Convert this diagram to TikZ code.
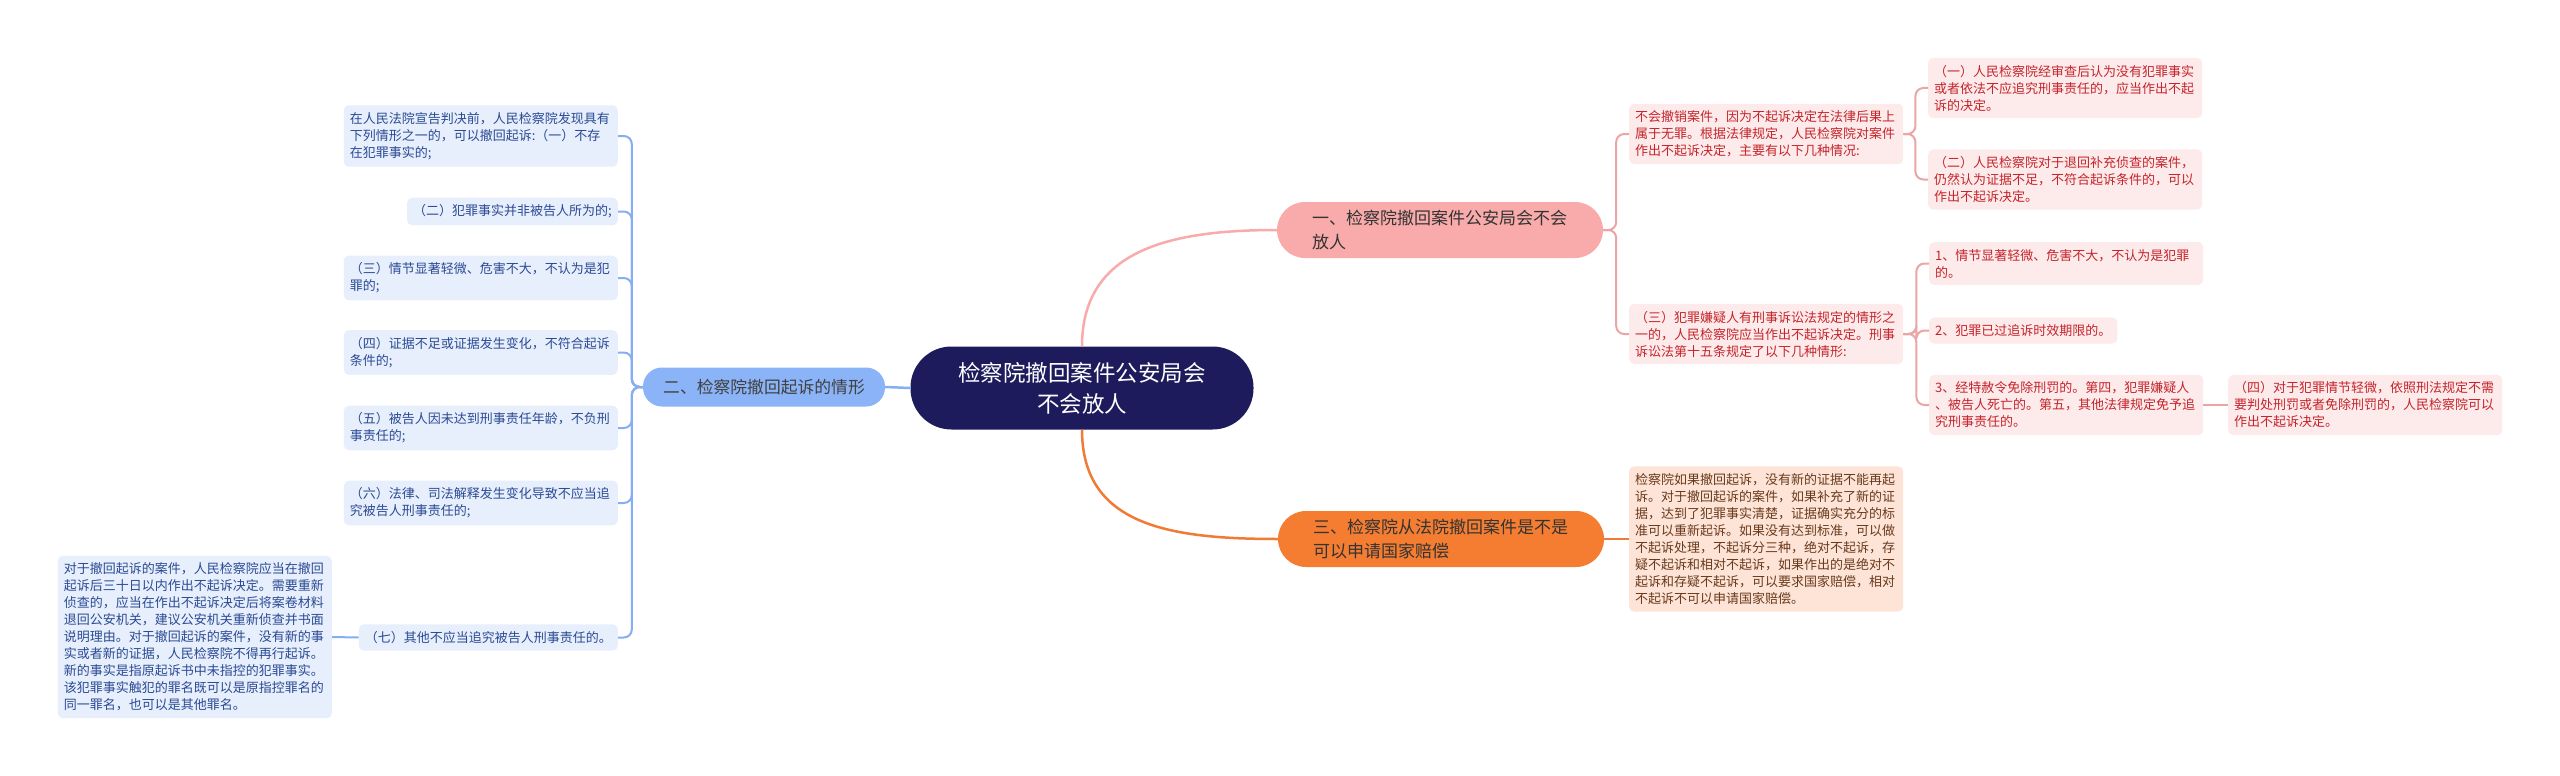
\documentclass[tikz,border=0pt]{standalone}
\usepackage{fontspec}
\newfontfamily\cjk{Noto Sans CJK SC}
\usepackage{tikz}
\definecolor{rootnavy}{HTML}{1D1B5C}
\definecolor{pinkmain}{HTML}{F8ABAA}
\definecolor{orangemain}{HTML}{F47D31}
\definecolor{bluemain}{HTML}{8BB3F7}
\definecolor{blueleaf}{HTML}{E7EFFD}
\definecolor{bluetext}{HTML}{2B4A93}
\definecolor{pinkleaf}{HTML}{FDEBEB}
\definecolor{pinktext}{HTML}{C4242B}
\definecolor{orangeleaf}{HTML}{FDE4D7}
\definecolor{orangetext}{HTML}{6A3A1C}
\definecolor{pinkline}{HTML}{EBA5A4}
\definecolor{orangeline}{HTML}{EF7B34}
\definecolor{blueline}{HTML}{86AEF3}

\begin{document}
\begin{tikzpicture}[x=1pt,y=-1pt,
  rootbox/.style={fill=rootnavy,text=white,rounded corners=41pt,minimum width=343pt,minimum height=83pt,align=center,font=\cjk\fontsize{22.5}{31}\selectfont},
  mainbox/.style={rounded corners=28pt,minimum width=326pt,minimum height=56pt,text width=256pt,align=left,font=\cjk\fontsize{17}{23.5}\selectfont},
  blueleafbox/.style={fill=blueleaf,text=bluetext,rounded corners=5pt,inner xsep=6pt,inner ysep=7pt,align=left,font=\cjk\fontsize{13}{17}\selectfont},
  pinkleafbox/.style={blueleafbox,fill=pinkleaf,text=pinktext},
  orangeleafbox/.style={blueleafbox,fill=orangeleaf,text=orangetext},
  bluelink/.style={draw=blueline,line width=2pt,rounded corners=8pt},
  pinklink/.style={draw=pinkline,line width=2pt,rounded corners=8pt},
  orangelink/.style={draw=orangeline,line width=2pt}]
\useasboundingbox[fill=white] (0,0) rectangle (2560,776);

\node[rootbox] (root) at (1082,388) {检察院撤回案件公安局会\\不会放人};

\node[mainbox,fill=pinkmain,text=black!80] (one) at (1440,230) {一、检察院撤回案件公安局会不会\\放人};
\node[mainbox,fill=orangemain,text=black!80] (three) at (1441,539) {三、检察院从法院撤回案件是不是\\可以申请国家赔偿};
\node[fill=bluemain,text=black!75,rounded corners=19pt,minimum width=242pt,minimum height=39pt,font=\cjk\fontsize{16.8}{22}\selectfont] (two) at (764,387) {二、检察院撤回起诉的情形};

\draw[draw=pinkmain,line width=2.5pt] (root.north) .. controls +(0,-95) and +(-110,0) .. (one.west);
\draw[draw=orangeline,line width=2.5pt] (root.south) .. controls +(0,95) and +(-110,0) .. (three.west);
\draw[draw=blueline,line width=2.5pt] (root.west) -- (two.east);

\node[blueleafbox,text width=262pt,anchor=east] (l1) at (618,136) {在人民法院宣告判决前，人民检察院发现具有\\下列情形之一的，可以撤回起诉:（一）不存\\在犯罪事实的;};
\node[blueleafbox,anchor=east] (l2) at (618,211.5) {（二）犯罪事实并非被告人所为的;};
\node[blueleafbox,text width=262pt,anchor=east] (l3) at (618,278) {（三）情节显著轻微、危害不大，不认为是犯\\罪的;};
\node[blueleafbox,text width=262pt,anchor=east] (l4) at (618,352.5) {（四）证据不足或证据发生变化，不符合起诉\\条件的;};
\node[blueleafbox,text width=262pt,anchor=east] (l5) at (618,428) {（五）被告人因未达到刑事责任年龄，不负刑\\事责任的;};
\node[blueleafbox,text width=262pt,anchor=east] (l6) at (618,503) {（六）法律、司法解释发生变化导致不应当追\\究被告人刑事责任的;};
\node[blueleafbox,anchor=east] (l7) at (618,637.5) {（七）其他不应当追究被告人刑事责任的。};
\node[blueleafbox,text width=262pt,anchor=east] (l8) at (332,637) {对于撤回起诉的案件，人民检察院应当在撤回\\起诉后三十日以内作出不起诉决定。需要重新\\侦查的，应当在作出不起诉决定后将案卷材料\\退回公安机关，建议公安机关重新侦查并书面\\说明理由。对于撤回起诉的案件，没有新的事\\实或者新的证据，人民检察院不得再行起诉。\\新的事实是指原起诉书中未指控的犯罪事实。\\该犯罪事实触犯的罪名既可以是原指控罪名的\\同一罪名，也可以是其他罪名。};

\foreach \leaf in {l1,l2,l3,l4,l5,l6,l7}
  \draw[bluelink] (two.west) -- ++(-11,0) |- (\leaf.east);
\draw[bluelink] (l7.west) -- (l8.east);

\node[pinkleafbox,text width=262pt,anchor=west] (pa) at (1629,134) {不会撤销案件，因为不起诉决定在法律后果上\\属于无罪。根据法律规定，人民检察院对案件\\作出不起诉决定，主要有以下几种情况:};
\node[pinkleafbox,text width=262pt,anchor=west] (pb) at (1629,334) {（三）犯罪嫌疑人有刑事诉讼法规定的情形之\\一的，人民检察院应当作出不起诉决定。刑事\\诉讼法第十五条规定了以下几种情形:};
\node[pinkleafbox,text width=262pt,anchor=west] (pa1) at (1928,88) {（一）人民检察院经审查后认为没有犯罪事实\\或者依法不应追究刑事责任的，应当作出不起\\诉的决定。};
\node[pinkleafbox,text width=262pt,anchor=west] (pa2) at (1928,179.5) {（二）人民检察院对于退回补充侦查的案件，\\仍然认为证据不足，不符合起诉条件的，可以\\作出不起诉决定。};
\node[pinkleafbox,text width=262pt,anchor=west] (pb1) at (1929,263.5) {1、情节显著轻微、危害不大，不认为是犯罪\\的。};
\node[pinkleafbox,anchor=west] (pb2) at (1929,330.5) {2、犯罪已过追诉时效期限的。};
\node[pinkleafbox,text width=262pt,anchor=west] (pb3) at (1929,405) {3、经特赦令免除刑罚的。第四，犯罪嫌疑人\\、被告人死亡的。第五，其他法律规定免予追\\究刑事责任的。};
\node[pinkleafbox,text width=262pt,anchor=west] (pb4) at (2228,405) {（四）对于犯罪情节轻微，依照刑法规定不需\\要判处刑罚或者免除刑罚的，人民检察院可以\\作出不起诉决定。};

\foreach \leaf in {pa,pb}
  \draw[pinklink] (one.east) -- ++(13,0) |- (\leaf.west);
\foreach \leaf in {pa1,pa2}
  \draw[pinklink] (pa.east) -- ++(12,0) |- (\leaf.west);
\foreach \leaf in {pb1,pb2,pb3}
  \draw[pinklink] (pb.east) -- ++(13,0) |- (\leaf.west);
\draw[pinklink] (pb3.east) -- (pb4.west);

\node[orangeleafbox,text width=262pt,anchor=west] (oc) at (1629,539) {检察院如果撤回起诉，没有新的证据不能再起\\诉。对于撤回起诉的案件，如果补充了新的证\\据，达到了犯罪事实清楚，证据确实充分的标\\准可以重新起诉。如果没有达到标准，可以做\\不起诉处理，不起诉分三种，绝对不起诉，存\\疑不起诉和相对不起诉，如果作出的是绝对不\\起诉和存疑不起诉，可以要求国家赔偿，相对\\不起诉不可以申请国家赔偿。};
\draw[orangelink] (three.east) -- (oc.west);
\end{tikzpicture}
\end{document}
